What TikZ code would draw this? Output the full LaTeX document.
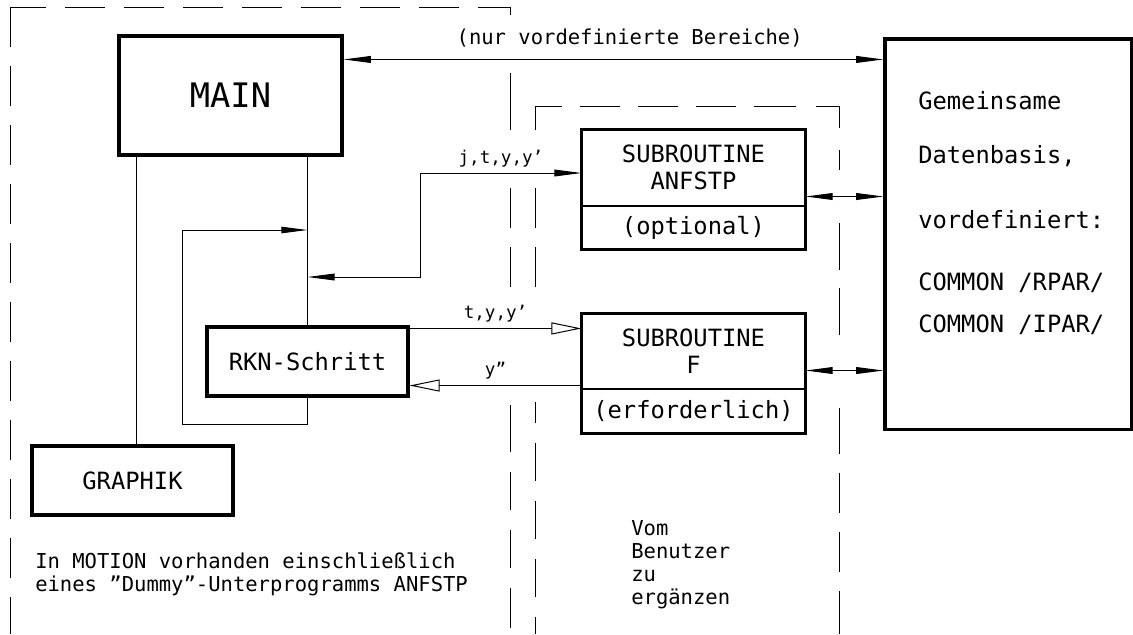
\documentclass[tikz,border=0pt]{standalone}
\usepackage{fontspec}
\setmainfont{DejaVu Sans Mono}
\usetikzlibrary{arrows.meta,positioning}

\newcommand{\fgross}{\fontsize{24}{28}\selectfont}
\newcommand{\fmittel}{\fontsize{16.9}{19.5}\selectfont}
\newcommand{\fklein}{\fontsize{14.6}{16.4}\selectfont}
\newcommand{\fwinzig}{\fontsize{12.5}{14}\selectfont}

\tikzset{
  basebox/.style={rectangle,draw=black,line width=0.7pt,align=center,
                  inner sep=0pt,font=\fmittel},
  dickbox/.style={basebox,line width=2.2pt},
  teilnode/.style={basebox,minimum width=5.575cm},
  rahmen/.style={line width=2.2pt},
  txtnode/.style={inner sep=0pt,align=left,font=\fklein},
  lbl/.style={inner sep=1pt,font=\fwinzig},
  linie/.style={line width=0.7pt},
  arr/.style={-{Triangle[length=0.65cm,width=0.16cm]},line width=0.7pt},
  dblarr/.style={{Triangle[length=0.68cm,width=0.17cm]}-{Triangle[length=0.68cm,width=0.17cm]},
                 line width=0.7pt},
  oarr/.style={-{Triangle[open,length=0.75cm,width=0.3cm]},line width=0.7pt},
  grenze/.style={line width=0.7pt,dash pattern=on 1cm off 0.475cm}
}

\begin{document}
\begin{tikzpicture}[x=0.025cm,y=-0.025cm]
  \useasboundingbox (0,0) rectangle (1133,634);

  % Bereiche (gestrichelt)
  \draw[grenze] (10,7) -- (10,634);
  \draw[grenze,dash phase=0.1cm] (10,7) -- (510,7) -- (510,18);
  \draw[grenze,dash pattern=on 1.425cm off 1.45cm on 1cm off 0.475cm on 1cm off 1cm]
      (510,73) -- (510,287);
  \draw[grenze,dash pattern=on 1.175cm off 0.5cm on 0.95cm off 0.5cm on 0.95cm off 0.5cm
        on 1cm off 0.5cm] (510,405) -- (510,634);
  \draw[grenze,dash pattern=on 1.275cm off 0.45cm on 1cm off 0.45cm on 1cm off 0.45cm
        on 1cm off 0.45cm on 1.05cm off 0.5cm on 1.15cm off 0.5cm]
      (535,130) -- (535,106) -- (839,106) -- (839,128);
  \draw[grenze] (535,188) -- (535,287);
  \draw[grenze,dash pattern=on 0.95cm off 0.5cm,dash phase=0.425cm] (535,402) -- (535,634);
  \draw[grenze,solid] (839,150) -- (839,170);
  \draw[grenze,dash pattern=on 1.175cm off 0.45cm] (839,223) -- (839,337);
  \draw[grenze,dash pattern=on 1.15cm off 0.475cm on 1cm off 0.475cm on 1cm off 0.475cm
        on 2cm off 1cm] (839,408) -- (839,634);

  \node[dickbox,minimum width=5.575cm,minimum height=2.975cm,font=\fgross] (main)
      at (230.5,95.5) {MAIN};

  % Datenbasis
  \node[dickbox,minimum width=6.175cm,minimum height=9.75cm] (db) at (1008.5,234) {};
  \node[txtnode,font=\fmittel,anchor=base west] (db1) at (918,109) {Gemeinsame};
  \node[txtnode,font=\fmittel,anchor=base west] (db2) at (918,163) {Datenbasis,};
  \node[txtnode,font=\fmittel,anchor=base west] (db3) at (918,228) {vordefiniert:};
  \node[txtnode,font=\fmittel,anchor=base west] (db4) at (918,290) {COMMON /RPAR/};
  \node[txtnode,font=\fmittel,anchor=base west] (db5) at (918,332) {COMMON /IPAR/};

  % Unterprogramme
  \node[teilnode,minimum height=1.875cm] (anfT) at (693.5,167.5) {SUBROUTINE\\ANFSTP};
  \node[teilnode,minimum height=1.075cm,below=0pt of anfT] (anfB) {(optional)};
  \draw[rahmen] (anfT.north west) rectangle (anfB.south east);

  \node[teilnode,minimum height=1.85cm,below=1.6cm of anfB] (fT) {SUBROUTINE\\F};
  \node[teilnode,minimum height=1.1cm,below=0pt of fT] (fB) {(erforderlich)};
  \draw[rahmen] (fT.north west) rectangle (fB.south east);

  \node[dickbox,minimum width=5.025cm,minimum height=1.725cm] (rkn)
      at (307.5,361.5) {RKN-Schritt};
  \node[dickbox,minimum width=5.025cm,minimum height=1.725cm] (graph)
      at (132.5,480.5) {GRAPHIK};

  \node[txtnode,anchor=north west] (motion) at (35,552)
      {In MOTION vorhanden einschließlich\\eines "Dummy"-Unterprogramms ANFSTP};
  \node[txtnode,anchor=north west] (benutzer) at (631,520)
      {Vom\\Benutzer\\zu\\ergänzen};

  % Verbindungen
  \coordinate (mtop) at ([yshift=-0.625cm]main.north east);
  \draw[dblarr] (mtop) -- (mtop -| db.west)
      node[lbl,font=\fklein,pos=0.53,above=0.25cm] {(nur vordefinierte Bereiche)};

  \coordinate (gtap) at ([xshift=0.475cm]main.south west);
  \draw[linie] (gtap) -- (gtap |- graph.north);
  \draw[linie] (main.south -| rkn.north) -- (rkn.north);

  \coordinate (schl) at (182,424);
  \coordinate (schlin) at (307.5,230);
  \draw[arr] (rkn.south) |- (schl) |- (schlin);

  \coordinate (jtin) at (307.5,277);
  \draw[dblarr] (jtin) -- ++(113,0) |- ([yshift=-0.1375cm]anfT.west)
      node[lbl,pos=0.75,above=0.1cm] {j,t,y,y'};

  \coordinate (tyout) at ([yshift=-0.075cm]rkn.north east);
  \draw[oarr] (tyout) -- (tyout -| fT.west)
      node[lbl,midway,above=0.1cm] {t,y,y'};
  \coordinate (yyout) at ([yshift=0.075cm]fT.south west);
  \draw[oarr] (yyout) -- (yyout -| rkn.east)
      node[lbl,midway,above=0.1cm] {y''};

  \coordinate (anfdb) at ([yshift=0.225cm]anfT.south east);
  \draw[dblarr] (anfdb) -- (anfdb -| db.west);
  \coordinate (fdb) at ([yshift=0.45cm]fT.south east);
  \draw[dblarr] (fdb) -- (fdb -| db.west);

\end{tikzpicture}
\end{document}
